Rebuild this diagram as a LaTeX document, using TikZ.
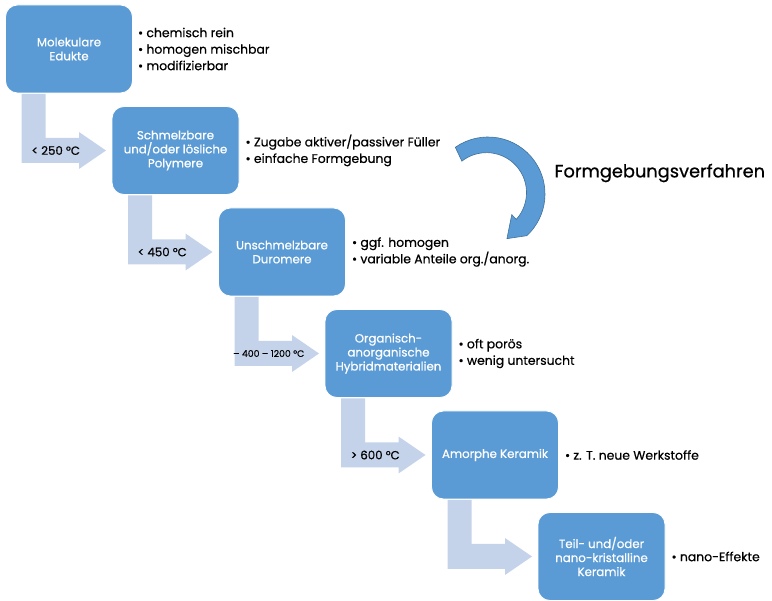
\documentclass[tikz,border=0pt]{standalone}
\usepackage{fontspec}
\setmainfont{Poppins}[FakeBold=0.6]
\usepackage{tikz}
\usetikzlibrary{positioning, calc}

\definecolor{boxblue}{RGB}{91,155,213}
\definecolor{boxedge}{RGB}{65,113,156}
\definecolor{steplight}{RGB}{197,211,234}

\begin{document}
\begin{tikzpicture}[
    x=1pt, y=1pt,
    node distance = 13.5pt and -20.5pt,
    box/.style    = {rectangle, rounded corners=12pt, fill=boxblue, draw=white,
                     line width=0.8pt, minimum width=127pt, minimum height=88pt,
                     inner sep=1pt, outer sep=0pt, align=center, text=white,
                     font=\fontsize{11.8}{14}\selectfont},
    info/.style   = {align=left, font=\fontsize{12.4}{16.5}\selectfont},
    stufe/.style  = {fill=steplight},
    temp/.style   = {font=\fontsize{11.8}{13}\selectfont},
  ]
  \useasboundingbox (0,0) rectangle (772,-601);

  \node[box] at (69,-49) (b1) {Molekulare\\Edukte};
  \node[box, below right=of b1] (b2) {Schmelzbare\\und/oder lösliche\\Polymere};
  \node[box, below right=of b2] (b3) {Unschmelzbare\\Duromere};
  \node[box, below right=of b3] (b4) {Organisch-\\anorganische\\Hybridmaterialien};
  \node[box, below right=of b4] (b5) {Amorphe Keramik};
  \node[box, below right=of b5] (b6) {Teil- und/oder\\nano-kristalline\\Keramik};

  \node[info, right=2pt of b1] (i1) {\textbullet\ chemisch rein\\\textbullet\ homogen mischbar\\\textbullet\ modifizierbar};
  \node[info, right=3pt of b2] (i2) {\textbullet\ Zugabe aktiver/passiver Füller\\\textbullet\ einfache Formgebung};
  \node[info, right=3pt of b3] (i3) {\textbullet\ ggf. homogen\\\textbullet\ variable Anteile org./anorg.};
  \node[info, right=3pt of b4] (i4) {\textbullet\ oft porös\\\textbullet\ wenig untersucht};
  \node[info, right=3pt of b5] (i5) {\textbullet\ z. T. neue Werkstoffe};
  \node[info, right=3pt of b6] (i6) {\textbullet\ nano-Effekte};

  % Stufenpfeile zwischen den Boxen
  \foreach \quelle/\ziel/\txt in {b1/b2/{< 250 °C}, b2/b3/{< 450 °C},
      b3/b4/{\fontsize{9.3}{10}\selectfont – 400 – 1200 °C},
      b4/b5/{> 600 °C}, b5/b6/{}}
    \fill[stufe] let \p1 = (\quelle.south west), \p2 = (\ziel.west) in
      (\x1+16,\y1-1) -- (\x1+40,\y1-1) -- (\x1+40,\y2+12.5)
      -- (\x2-33,\y2+12.5) -- (\x2-33,\y2+18.5) -- (\x2-6,\y2)
      -- (\x2-33,\y2-18.5) -- (\x2-33,\y2-12.5) -- (\x1+16,\y2-12.5) -- cycle
      node[temp] at ({(\x1+\x2)/2-3}, \y2) {\txt};

  % gebogener Pfeil
  \coordinate (kreis) at (488,-194);
  \filldraw[fill=boxblue, draw=boxedge, line width=0.6pt]
    ($(kreis)+(125:57)$) arc[start angle=125, end angle=-47, radius=57]
    -- ($(kreis)+(-67:48.5)$) -- ($(kreis)+(-41:31.5)$) -- ($(kreis)+(-42:38)$)
    arc[start angle=-42, end angle=128, radius=40] -- cycle;
  \node[anchor=west, font=\fontsize{17.8}{22}\selectfont] (titel) at (551,-173) {Formgebungsverfahren};
\end{tikzpicture}
\end{document}
